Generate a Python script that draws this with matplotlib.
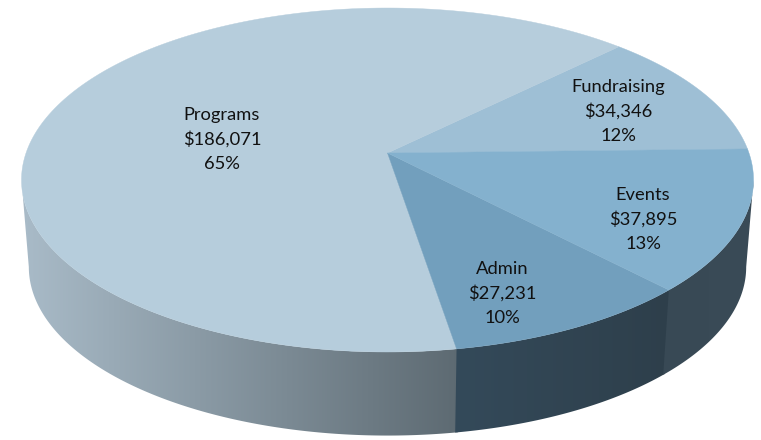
import numpy as np
import matplotlib
matplotlib.use('Agg')
import matplotlib.pyplot as plt
from matplotlib.patches import Polygon
from matplotlib.colors import LinearSegmentedColormap

# data, counter-clockwise from the right edge of the pie
names = ['Fundraising', 'Programs', 'Admin', 'Events']
amounts = [34346, 186071, 27231, 37895]
top_colors = ['#9EBFD5', '#B6CDDC', '#729FBD', '#84B1CE']
# side shading, left end -> right end of each slice
side_colors = [('#384955', '#384955'), ('#A9BBC8', '#5D6A72'),
               ('#344A5A', '#2E3F4B'), ('#384955', '#3A4B57')]
label_xy = [(618, 87), (222, 115), (502, 269), (643, 195)]

plt.rcParams['font.family'] = ['Lato', 'DejaVu Sans']

CX, CY = 387.5, 180.0      # middle of the top ellipse
RX, RY = 366.0, 172.0
APEX_UP = 27.0             # the pie centre sits above the ellipse middle (perspective)
DEPTH = 87.0
K = APEX_UP / RY
START = 1.4
# rim angles where the ellipse is widest, the side is only seen between them
SIDE_FROM = 180 + np.degrees(np.arcsin(K))
SIDE_TO = 360 - np.degrees(np.arcsin(K))


def rim(t, shrink=1.0, drop=0.0):
    # pie angle (deg) -> pixel position on the tilted circle
    s = np.sin(np.radians(t))
    c = np.cos(np.radians(t))
    w = 1 + K * s
    x = CX + shrink * RX * np.sqrt(1 - K * K) * c / w
    y = CY + drop - shrink * RY * (s + K) / w
    return x, y


amounts_arr = np.array(amounts, dtype=float)
total = amounts_arr.sum()
edges = START + np.concatenate([[0], np.cumsum(amounts_arr / total * 360)])

fig = plt.figure(figsize=(7.61, 4.40), dpi=100)
ax = fig.add_axes([0, 0, 1, 1])

# sides first, each one runs a little under the next so no seam shows
for i in range(len(names)):
    t0 = max(edges[i], SIDE_FROM)
    t1 = min(edges[i + 1] + 0.4, SIDE_TO)
    if t1 <= t0:
        continue
    ts = np.linspace(t0, t1, 200)
    xt, yt = rim(ts)
    xb, yb = rim(ts, 0.98, DEPTH)
    pts = np.vstack([np.column_stack([xt, yt]), np.column_stack([xb, yb])[::-1]])
    poly = Polygon(pts, closed=True, facecolor='none', edgecolor='none')
    ax.add_patch(poly)
    cmap = LinearSegmentedColormap.from_list('side', side_colors[i], N=512)
    im = ax.imshow(np.linspace(0, 1, 512).reshape(1, -1), cmap=cmap, aspect='auto',
                   extent=[pts[:, 0].min(), pts[:, 0].max(), pts[:, 1].max(), pts[:, 1].min()],
                   interpolation='bilinear', zorder=1 + 0.1 * i)
    im.set_clip_path(poly)

# top surface
apex = (CX, CY - APEX_UP)
for i in range(len(names)):
    ts = np.linspace(edges[i], edges[i + 1], 200)
    x, y = rim(ts)
    pts = [apex] + list(zip(x, y))
    ax.add_patch(Polygon(pts, closed=True, facecolor=top_colors[i],
                         edgecolor=top_colors[i], linewidth=0.3, zorder=2))

# labels
for name, amt, (lx, ly) in zip(names, amounts, label_xy):
    pct = round(amt / total * 100)
    for k, line in enumerate([name, '${:,}'.format(amt), '{}%'.format(pct)]):
        ax.text(lx, ly + k * 24.5, line, ha='center', va='center',
                fontsize=13.2, color='#111111', zorder=3)

ax.set_xlim(0, 761)
ax.set_ylim(440, 0)
ax.axis('off')

fig.savefig('out.png', dpi=100, facecolor='white')
